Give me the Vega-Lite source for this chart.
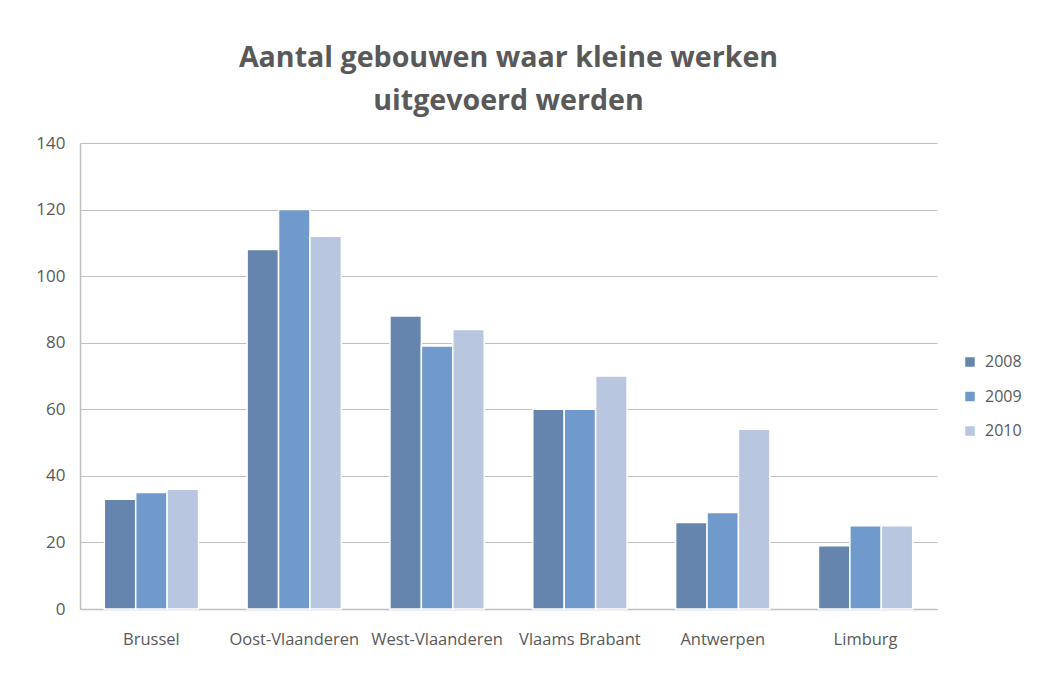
{
  "$schema": "https://vega.github.io/schema/vega-lite/v6.json",
  "width": 857,
  "height": 466,
  "autosize": {"type": "none"},
  "padding": {"left": 80, "top": 143, "right": 105, "bottom": 65},
  "background": "white",
  "title": {
    "text": ["Aantal gebouwen waar kleine werken", "uitgevoerd werden"],
    "font": "Open Sans",
    "fontSize": 28.6,
    "fontWeight": "bold",
    "color": "#595959",
    "anchor": "middle",
    "lineHeight": 43,
    "offset": 18
  },
  "data": {
    "values": [
      {"regio": "Brussel", "jaar": "2008", "aantal": 33},
      {"regio": "Brussel", "jaar": "2009", "aantal": 35},
      {"regio": "Brussel", "jaar": "2010", "aantal": 36},
      {"regio": "Oost-Vlaanderen", "jaar": "2008", "aantal": 108},
      {"regio": "Oost-Vlaanderen", "jaar": "2009", "aantal": 120},
      {"regio": "Oost-Vlaanderen", "jaar": "2010", "aantal": 112},
      {"regio": "West-Vlaanderen", "jaar": "2008", "aantal": 88},
      {"regio": "West-Vlaanderen", "jaar": "2009", "aantal": 79},
      {"regio": "West-Vlaanderen", "jaar": "2010", "aantal": 84},
      {"regio": "Vlaams Brabant", "jaar": "2008", "aantal": 60},
      {"regio": "Vlaams Brabant", "jaar": "2009", "aantal": 60},
      {"regio": "Vlaams Brabant", "jaar": "2010", "aantal": 70},
      {"regio": "Antwerpen", "jaar": "2008", "aantal": 26},
      {"regio": "Antwerpen", "jaar": "2009", "aantal": 29},
      {"regio": "Antwerpen", "jaar": "2010", "aantal": 54},
      {"regio": "Limburg", "jaar": "2008", "aantal": 19},
      {"regio": "Limburg", "jaar": "2009", "aantal": 25},
      {"regio": "Limburg", "jaar": "2010", "aantal": 25}
    ]
  },
  "mark": {"type": "bar", "stroke": "white", "strokeWidth": 1.5},
  "encoding": {
    "x": {
      "field": "regio",
      "type": "nominal",
      "sort": null,
      "scale": {"paddingInner": 0.34, "paddingOuter": 0.17},
      "axis": {
        "title": null,
        "labelAngle": 0,
        "labelFont": "Open Sans",
        "labelFontSize": 16.5,
        "labelColor": "#595959",
        "labelPadding": 22,
        "ticks": false,
        "domainColor": "#BFBFBF",
        "domainWidth": 1.5,
        "grid": false
      }
    },
    "xOffset": {"field": "jaar", "type": "nominal", "scale": {"paddingInner": 0}},
    "y": {
      "field": "aantal",
      "type": "quantitative",
      "scale": {"domain": [0, 140]},
      "axis": {
        "title": null,
        "values": [0, 20, 40, 60, 80, 100, 120, 140],
        "labelFont": "Open Sans",
        "labelFontSize": 17,
        "labelColor": "#595959",
        "labelPadding": 15,
        "ticks": false,
        "domainColor": "#BFBFBF",
        "domainWidth": 1.5,
        "gridColor": "#BFBFBF",
        "gridWidth": 1.2
      }
    },
    "color": {
      "field": "jaar",
      "type": "nominal",
      "scale": {"domain": ["2008", "2009", "2010"], "range": ["#6585AF", "#709ACC", "#B8C6DF"]},
      "legend": {
        "title": null,
        "orient": "none",
        "legendX": 882,
        "legendY": 211,
        "symbolType": "square",
        "symbolSize": 90,
        "symbolStrokeWidth": 0,
        "rowPadding": 18.5,
        "labelFont": "Open Sans",
        "labelFontSize": 16,
        "labelColor": "#595959",
        "labelOffset": 7
      }
    }
  },
  "config": {"view": {"stroke": null}}
}
